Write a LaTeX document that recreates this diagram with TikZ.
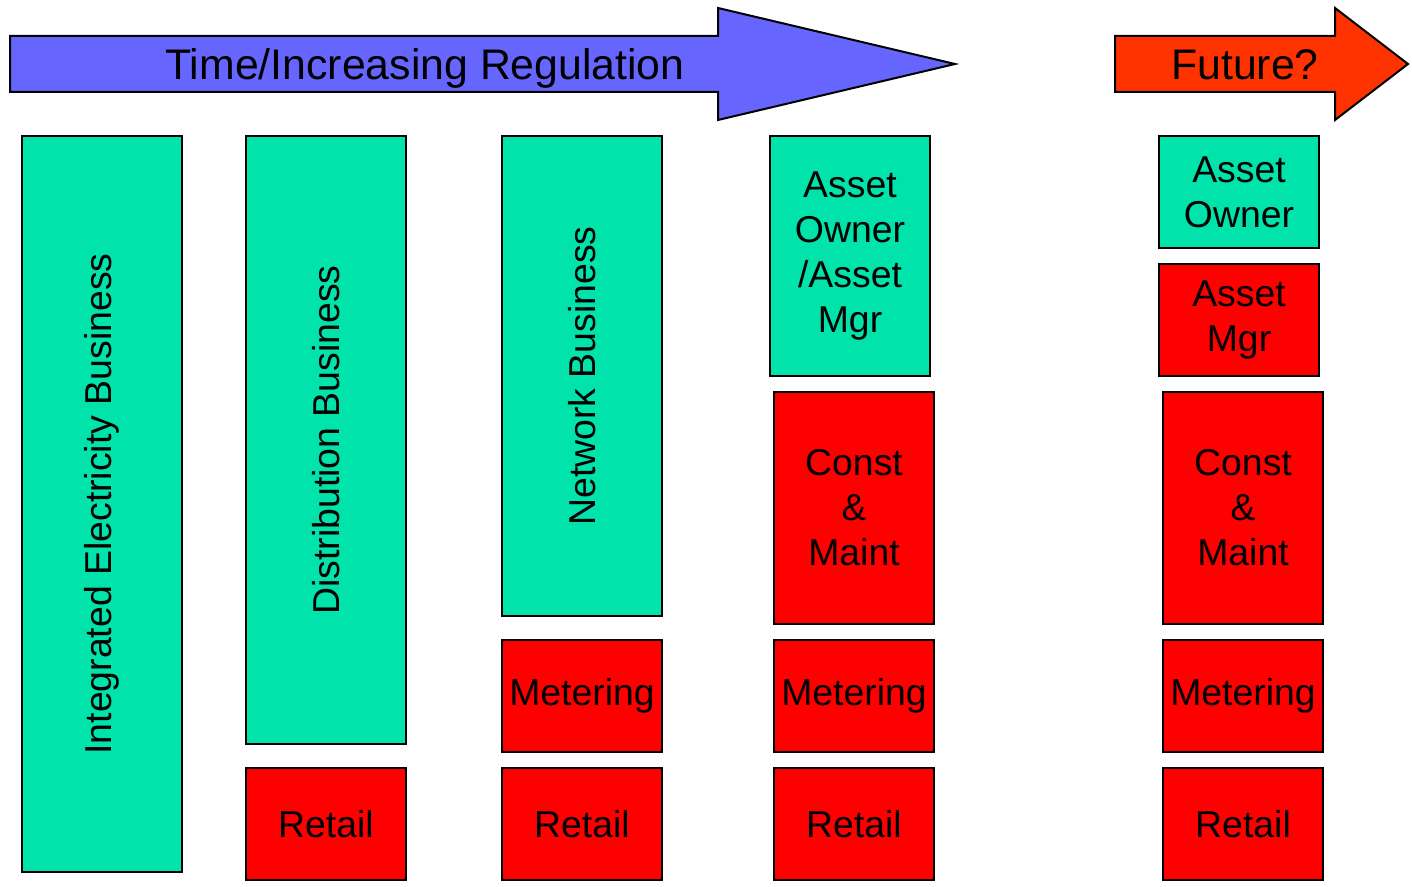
\documentclass[tikz,border=0pt]{standalone}
\usepackage{fontspec}
\setmainfont{Liberation Sans}
\usepackage{graphicx}
\usepackage{xcolor}
\usepackage{tikz}

\definecolor{ownergreen}{RGB}{0,227,170}
\definecolor{trendblue}{RGB}{102,102,255}
\definecolor{futureorange}{RGB}{255,51,0}
\definecolor{servicered}{RGB}{255,0,0}

\begin{document}
\begin{tikzpicture}[
    x=0.5pt, y=-0.5pt,
    block/.style={draw, line width=1pt, align=center, inner sep=0pt, minimum width=80pt, font=\fontsize{18.7}{22.5}\selectfont},
    ownerbox/.style={block, fill=ownergreen},
    servicebox/.style={block, fill=servicered},
    banner/.style={draw, line width=1pt, line join=miter},
    bannertext/.style={anchor=base, font=\fontsize{21.4}{25}\selectfont}
]
\useasboundingbox (0,0) rectangle (1412,887);

% arrows along the top
\draw[banner, fill=trendblue] (10,36) -- (718,36) -- (718,8) -- (955,64) -- (718,120) -- (718,92) -- (10,92) -- cycle;
\node[bannertext] (regulation) at (425,80) {Time/Increasing Regulation};
\draw[banner, fill=futureorange] (1115,36) -- (1335,36) -- (1335,8) -- (1408,64) -- (1335,120) -- (1335,92) -- (1115,92) -- cycle;
\node[bannertext] (future) at (1245,80) {Future?};

% integrated utility
\node[ownerbox, minimum height=368pt] (integrated) at (102,504) {\rotatebox{90}{Integrated Electricity Business}};

% distribution + retail
\node[ownerbox, minimum height=304pt] (distribution) at (326,440) {\rotatebox{90}{Distribution Business}};
\node[servicebox, minimum height=56pt] (retailB) at (326,824) {Retail};

% network, metering split out
\node[ownerbox, minimum height=240pt] (network) at (582,376) {\rotatebox{90}{Network Business}};
\node[servicebox, minimum height=56pt] (meteringC) at (582,696) {Metering};
\node[servicebox, minimum height=56pt] (retailC) at (582,824) {Retail};

% asset owner, contracting split out
\node[ownerbox, minimum height=120pt] (ownerD) at (850,256) {Asset\\Owner\\/Asset\\Mgr};
\node[servicebox, minimum height=116pt] (constD) at (854,508) {Const\\\&\\Maint};
\node[servicebox, minimum height=56pt] (meteringD) at (854,696) {Metering};
\node[servicebox, minimum height=56pt] (retailD) at (854,824) {Retail};

% future
\node[ownerbox, minimum height=56pt] (ownerE) at (1239,192) {Asset\\Owner};
\node[servicebox, minimum height=56pt] (mgrE) at (1239,320) {Asset\\Mgr};
\node[servicebox, minimum height=116pt] (constE) at (1243,508) {Const\\\&\\Maint};
\node[servicebox, minimum height=56pt] (meteringE) at (1243,696) {Metering};
\node[servicebox, minimum height=56pt] (retailE) at (1243,824) {Retail};
\end{tikzpicture}
\end{document}
